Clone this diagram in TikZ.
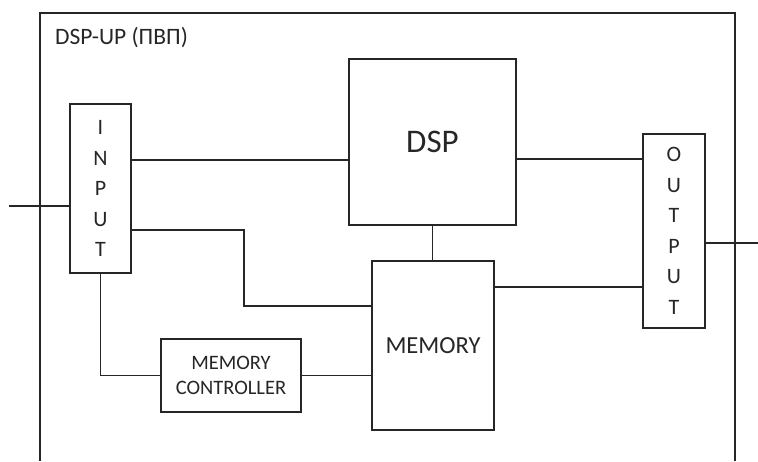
\documentclass[tikz,border=0pt]{standalone}
\usepackage{fontspec}
\setmainfont{Carlito}
\begin{document}
\begin{tikzpicture}[x=1pt,y=-1pt,
  blk/.style={draw=black!85, line width=1.5pt, inner sep=0pt, text=black!85},
  wire/.style={draw=black!85, line width=1.5pt},
  vtext/.style={align=center, font=\fontsize{22}{30.5}\selectfont}]
\useasboundingbox (0,0) rectangle (758,461);
% outer frame (open at the bottom)
\draw[wire] (40,461) -- (40,13) -- (735,13) -- (735,461);
\node[anchor=base west, text=black!85, inner sep=0pt, font=\fontsize{23.5}{26}\selectfont] (title) at (55,44) {DSP-UP (ПВП)};
% blocks
\node[blk, minimum width=61, minimum height=169] (input) at (100.5,188.5) {};
\node[vtext, text=black!85] (inputtxt) at (input.center) {I\\N\\P\\U\\T};
\node[blk, minimum width=167, minimum height=166, font=\fontsize{33}{36}\selectfont] (dsp) at (432.5,142) {DSP};
\node[blk, minimum width=122, minimum height=169, font=\fontsize{24.5}{28}\selectfont] (memory) at (433,345.5) {MEMORY};
\node[blk, minimum width=140, minimum height=73, align=center, font=\fontsize{20.5}{25}\selectfont] (mc) at (231,375.5) {MEMORY\\CONTROLLER};
\node[blk, minimum width=62, minimum height=194] (output) at (674,231) {};
\node[vtext, text=black!85] (outputtxt) at (output.center) {O\\U\\T\\P\\U\\T};
% free ends
\coordinate (inL) at (9,206);
\coordinate (outR) at (758,243);
% connectors
\draw[wire] (inL) -- (inL -| input.west);
\draw[wire] (input.east |- 0,160) -- (dsp.west |- 0,160);
\draw[wire] (input.east |- 0,230) -| (244,306) -- (memory.west |- 0,306);
\draw[wire] (input.south) |- (mc.west);
\draw[wire] (mc.east) -- (mc.east -| memory.west);
\draw[wire] (dsp.south) -- (dsp.south |- memory.north);
\draw[wire] (dsp.east |- 0,159) -- (output.west |- 0,159);
\draw[wire] (memory.east |- 0,287) -- (output.west |- 0,287);
\draw[wire] (output.east |- outR) -- (outR);
\end{tikzpicture}
\end{document}
